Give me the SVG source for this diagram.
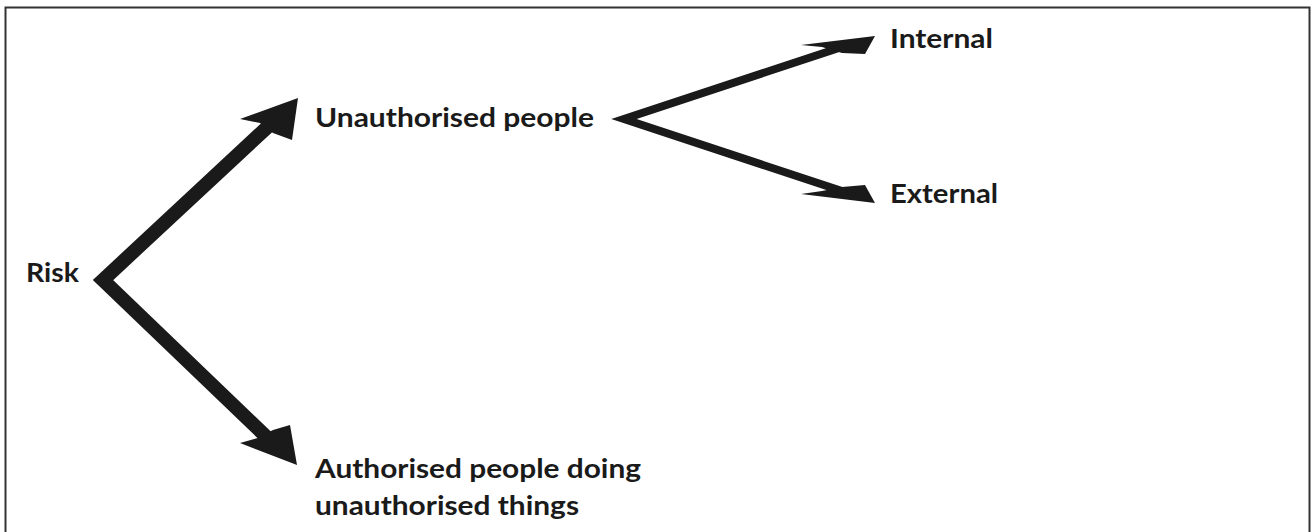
<svg xmlns="http://www.w3.org/2000/svg" width="1313" height="532" viewBox="0 0 1313 532">
<style>
.lbl{font-family:Lato,"Open Sans","Liberation Sans",sans-serif;font-weight:bold;font-size:27px;fill:#1a1a1a}
.shaft{fill:none;stroke:#1a1a1a;stroke-linejoin:miter;stroke-miterlimit:10}
.head{fill:#1a1a1a}
</style>
<rect x="5.5" y="7.5" width="1304" height="560" fill="#fff" stroke="#333" stroke-width="2"/>
<g id="connectors">
<polyline class="shaft" stroke-width="14" points="275,120 103,280 278,448"/>
<polygon class="head" points="298,98 240,119 260,123 273,133 292,140"/>
<polygon class="head" points="297,465 290,425 273,430 258,438 240,443"/>
<polyline class="shaft" stroke-width="8" points="848,45 624,119 848,193"/>
<polygon class="head" points="875,36 801,45 822,47 842,53 865,54"/>
<polygon class="head" points="875,203 865,185 842,187 822,191 801,194"/>
</g>
<g id="risk"><text class="lbl" x="26" y="282" textLength="53" lengthAdjust="spacingAndGlyphs">Risk</text></g>
<g id="unauthorised"><text class="lbl" x="315" y="127" textLength="279" lengthAdjust="spacingAndGlyphs">Unauthorised people</text></g>
<g id="internal"><text class="lbl" x="890" y="48" textLength="103" lengthAdjust="spacingAndGlyphs">Internal</text></g>
<g id="external"><text class="lbl" x="890" y="203" textLength="108" lengthAdjust="spacingAndGlyphs">External</text></g>
<g id="authorised"><text class="lbl" x="315" y="478" textLength="326" lengthAdjust="spacingAndGlyphs">Authorised people doing</text><text class="lbl" x="315" y="515" textLength="264" lengthAdjust="spacingAndGlyphs">unauthorised things</text></g>
</svg>
